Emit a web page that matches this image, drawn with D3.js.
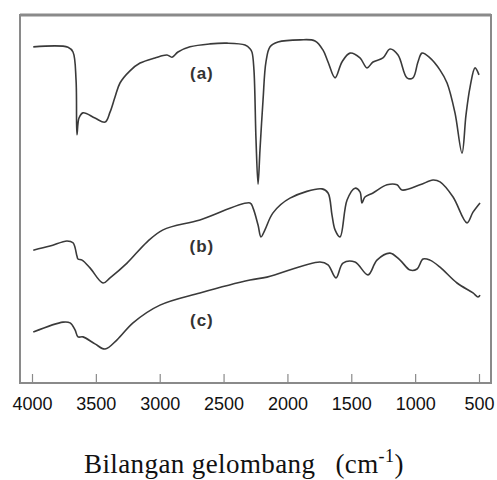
<!DOCTYPE html>
<html>
<head>
<script src="https://d3js.org/d3.v7.min.js"></script>
<style>
  body { margin: 0; background: #fff; }
  .tick text { font-family: 'Liberation Sans', Arial, sans-serif; font-size: 18px; fill: #111; }
  .lbl { font-family: 'Liberation Sans', Arial, sans-serif; font-size: 17px; font-weight: bold; fill: #333; letter-spacing: 1px; }
  .title { font-family: 'Liberation Serif', 'Times New Roman', serif; font-size: 27px; fill: #111; letter-spacing: 0.4px; }
</style>
</head>
<body>
<svg id="chart"></svg>
<script>
'use strict';

// wavenumber (cm-1) and transmittance (arbitrary %, stacked) for the three spectra
var wnA = [3990,3718,3679,3655,3648,3632,3601,3507,3428,3389,3350,3311,3233,3154,3037,2943,2904,2857,2763,2606,2473,2332,2293,2277,2262,2246,2230,2215,2191,2168,2136,2074,1901,1784,1721,1682,1627,1573,1510,1432,1377,1330,1252,1197,1134,1064,1017,978,946,884,805,750,688,633,602,570,531,500];
var tA  = [91.1,91.0,89.7,82.0,67.3,71.8,73.2,71.8,70.7,73.4,77.5,81.3,84.6,86.7,88.1,88.9,88.3,89.7,91.1,91.9,92.1,91.6,90.6,89.6,84.8,65.9,53.9,63.1,76.7,87.0,91.1,92.4,93.0,92.7,90.2,87.0,82.7,87.0,89.4,88.1,85.4,87.0,88.1,90.5,88.9,82.7,82.7,87.0,89.4,88.1,84.8,81.3,73.2,62.3,72.6,80.2,85.4,83.5];

var wnB = [3990,3859,3726,3679,3648,3640,3608,3546,3444,3389,3256,3100,2974,2685,2293,2269,2230,2207,2176,2113,1980,1729,1682,1651,1627,1588,1533,1471,1432,1416,1393,1330,1220,1142,1103,962,860,805,703,594,547,492];
var tB  = [36.0,37.1,38.5,38.0,34.4,33.6,33.3,31.2,27.1,28.5,32.5,38.2,41.5,44.2,48.8,47.4,42.8,39.6,41.5,46.1,50.1,52.6,51.5,45.5,41.5,39.6,49.6,52.8,51.8,48.8,50.4,51.5,53.7,53.7,52.3,53.7,55.0,54.5,50.4,43.4,46.3,48.8];

var wnC = [3990,3757,3702,3663,3640,3601,3507,3428,3334,3209,2998,2685,2293,2160,1745,1682,1620,1565,1471,1369,1299,1197,1118,1040,985,938,884,805,672,547,508,492];
var tC  = [13.8,16.5,16.3,14.4,12.5,12.5,10.6,9.2,11.7,16.3,21.1,24.4,27.9,28.7,32.8,32.0,28.5,32.5,32.8,29.3,33.3,35.2,33.3,30.6,30.9,33.6,33.3,31.4,27.1,24.4,23.3,23.8];

var seriesNames = ['(a)', '(b)', '(c)'];
var labelAt = [[2670, 84.0], [2670, 37.0], [2670, 17.0]];

var xTicks = [4000, 3500, 3000, 2500, 2000, 1500, 1000, 500];

var width = 497, height = 480;
var frame = {left: 20, top: 15, right: 491, bottom: 383};

var svg = d3.select('#chart').attr('width', width).attr('height', height);

var x = d3.scaleLinear().domain([4000, 500]).range([32, 479]);
var y = d3.scaleLinear().domain([0, 100]).range([383, 14]);

// frame
svg.append('rect')
  .attr('x', frame.left).attr('y', frame.top)
  .attr('width', frame.right - frame.left).attr('height', frame.bottom - frame.top)
  .attr('fill', 'none').attr('stroke', '#8a8a8a').attr('stroke-width', 2);
svg.append('line')
  .attr('x1', frame.left).attr('x2', frame.right)
  .attr('y1', frame.top).attr('y2', frame.top)
  .attr('stroke', '#8a8a8a').attr('stroke-width', 3);

// x axis, ticks pointing into the frame
var axis = svg.append('g')
  .attr('transform', 'translate(0,' + frame.bottom + ')')
  .call(d3.axisBottom(x).tickValues(xTicks).tickSize(-9).tickPadding(14).tickFormat(d3.format('d')));
axis.select('.domain').remove();
axis.selectAll('.tick line').attr('stroke', '#8a8a8a').attr('stroke-width', 1.2);

var line = d3.line()
  .x(function(d) { return x(d[0]); })
  .y(function(d) { return y(d[1]); })
  .curve(d3.curveCatmullRom.alpha(0.5));

[[wnA, tA], [wnB, tB], [wnC, tC]].forEach(function(s) {
  svg.append('path')
    .datum(d3.zip(s[0], s[1]))
    .attr('d', line)
    .attr('fill', 'none')
    .attr('stroke', '#3a3a3a')
    .attr('stroke-width', 1.6)
    .attr('stroke-linejoin', 'round');
});

svg.selectAll('.lbl')
  .data(seriesNames)
  .enter().append('text')
  .attr('class', 'lbl')
  .attr('x', function(d, i) { return x(labelAt[i][0]); })
  .attr('y', function(d, i) { return y(labelAt[i][1]); })
  .attr('text-anchor', 'middle')
  .attr('dy', '0.35em')
  .text(function(d) { return d; });

// axis title
var title = svg.append('text')
  .attr('class', 'title')
  .attr('x', 84).attr('y', 473);
title.append('tspan').text('Bilangan gelombang');
title.append('tspan').attr('dx', 20).text('(cm');
title.append('tspan').attr('dy', -11).attr('font-size', 18).text('-1');
title.append('tspan').attr('dy', 11).text(')');
</script>
</body>
</html>
